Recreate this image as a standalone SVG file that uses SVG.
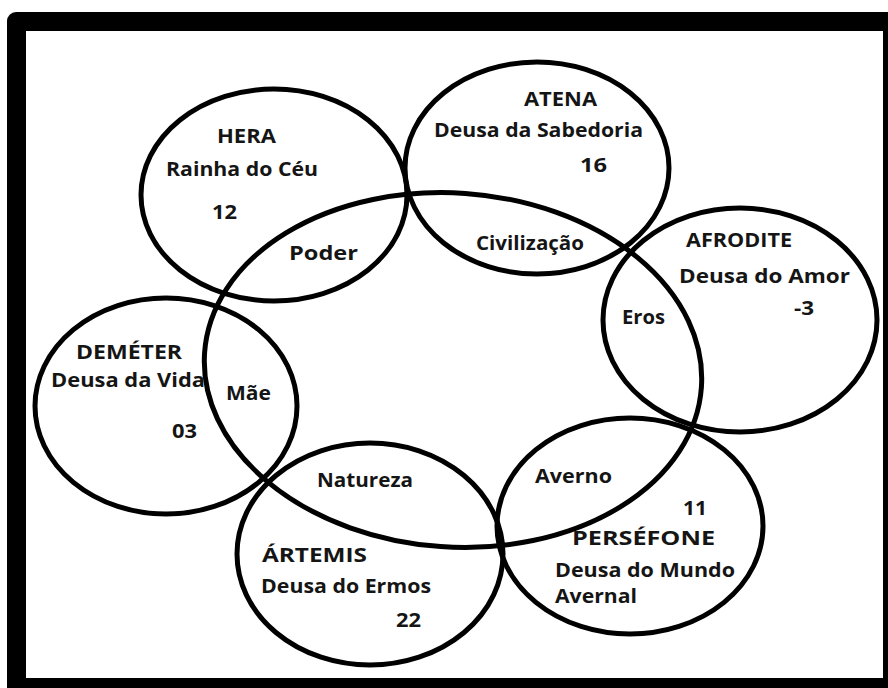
<svg xmlns="http://www.w3.org/2000/svg" width="888" height="688" viewBox="0 0 888 688">
<style>
.c{fill:none;stroke:#000;stroke-width:5}
text{font-family:"Open Sans","Liberation Sans",sans-serif;font-weight:bold;font-size:19px;fill:#151515}
</style>
<rect x="0" y="0" width="888" height="688" fill="#fff"/>
<rect x="7" y="12" width="900" height="700" rx="9" fill="#000"/>
<rect x="26" y="31" width="857" height="647" fill="#fff"/>
<g id="connectors"></g>
<g id="centro"><ellipse class="c" cx="453" cy="370" rx="249" ry="177" transform="rotate(4 453 370)"/>
<text x="289" y="260" textLength="69" lengthAdjust="spacingAndGlyphs">Poder</text>
<text x="476" y="250" textLength="108" lengthAdjust="spacingAndGlyphs">Civilização</text>
<text x="622" y="324" textLength="43" lengthAdjust="spacingAndGlyphs">Eros</text>
<text x="226" y="400" textLength="45" lengthAdjust="spacingAndGlyphs">Mãe</text>
<text x="317" y="487" textLength="96" lengthAdjust="spacingAndGlyphs">Natureza</text>
<text x="535" y="483" textLength="77" lengthAdjust="spacingAndGlyphs">Averno</text></g>
<g id="hera"><ellipse class="c" cx="274" cy="195" rx="133" ry="106"/>
<text x="217" y="143" textLength="59" lengthAdjust="spacingAndGlyphs">HERA</text>
<text x="166" y="176" textLength="152" lengthAdjust="spacingAndGlyphs">Rainha do Céu</text>
<text x="212" y="219" textLength="25" lengthAdjust="spacingAndGlyphs">12</text></g>
<g id="atena"><ellipse class="c" cx="537" cy="168" rx="132" ry="106"/>
<text x="524" y="106" textLength="73" lengthAdjust="spacingAndGlyphs">ATENA</text>
<text x="434" y="137" textLength="209" lengthAdjust="spacingAndGlyphs">Deusa da Sabedoria</text>
<text x="580" y="172" textLength="27" lengthAdjust="spacingAndGlyphs">16</text></g>
<g id="afrodite"><ellipse class="c" cx="740" cy="320" rx="137" ry="112"/>
<text x="686" y="247" textLength="106" lengthAdjust="spacingAndGlyphs">AFRODITE</text>
<text x="679" y="283" textLength="171" lengthAdjust="spacingAndGlyphs">Deusa do Amor</text>
<text x="794" y="315" textLength="20" lengthAdjust="spacingAndGlyphs">-3</text></g>
<g id="demeter"><ellipse class="c" cx="166" cy="406" rx="131" ry="108"/>
<text x="76" y="359" textLength="106" lengthAdjust="spacingAndGlyphs">DEMÉTER</text>
<text x="51" y="387" textLength="154" lengthAdjust="spacingAndGlyphs">Deusa da Vida</text>
<text x="172" y="438" textLength="25" lengthAdjust="spacingAndGlyphs">03</text></g>
<g id="artemis"><ellipse class="c" cx="370" cy="554" rx="133" ry="111"/>
<text x="262" y="562" textLength="105" lengthAdjust="spacingAndGlyphs">ÁRTEMIS</text>
<text x="261" y="593" textLength="170" lengthAdjust="spacingAndGlyphs">Deusa do Ermos</text>
<text x="396" y="627" textLength="25" lengthAdjust="spacingAndGlyphs">22</text></g>
<g id="persefone"><ellipse class="c" cx="630" cy="526" rx="133" ry="108"/>
<text x="683" y="515" textLength="24" lengthAdjust="spacingAndGlyphs">11</text>
<text x="572" y="545" textLength="143" lengthAdjust="spacingAndGlyphs">PERSÉFONE</text>
<text x="555" y="577" textLength="180" lengthAdjust="spacingAndGlyphs">Deusa do Mundo</text>
<text x="555" y="603" textLength="82" lengthAdjust="spacingAndGlyphs">Avernal</text></g>
</svg>
